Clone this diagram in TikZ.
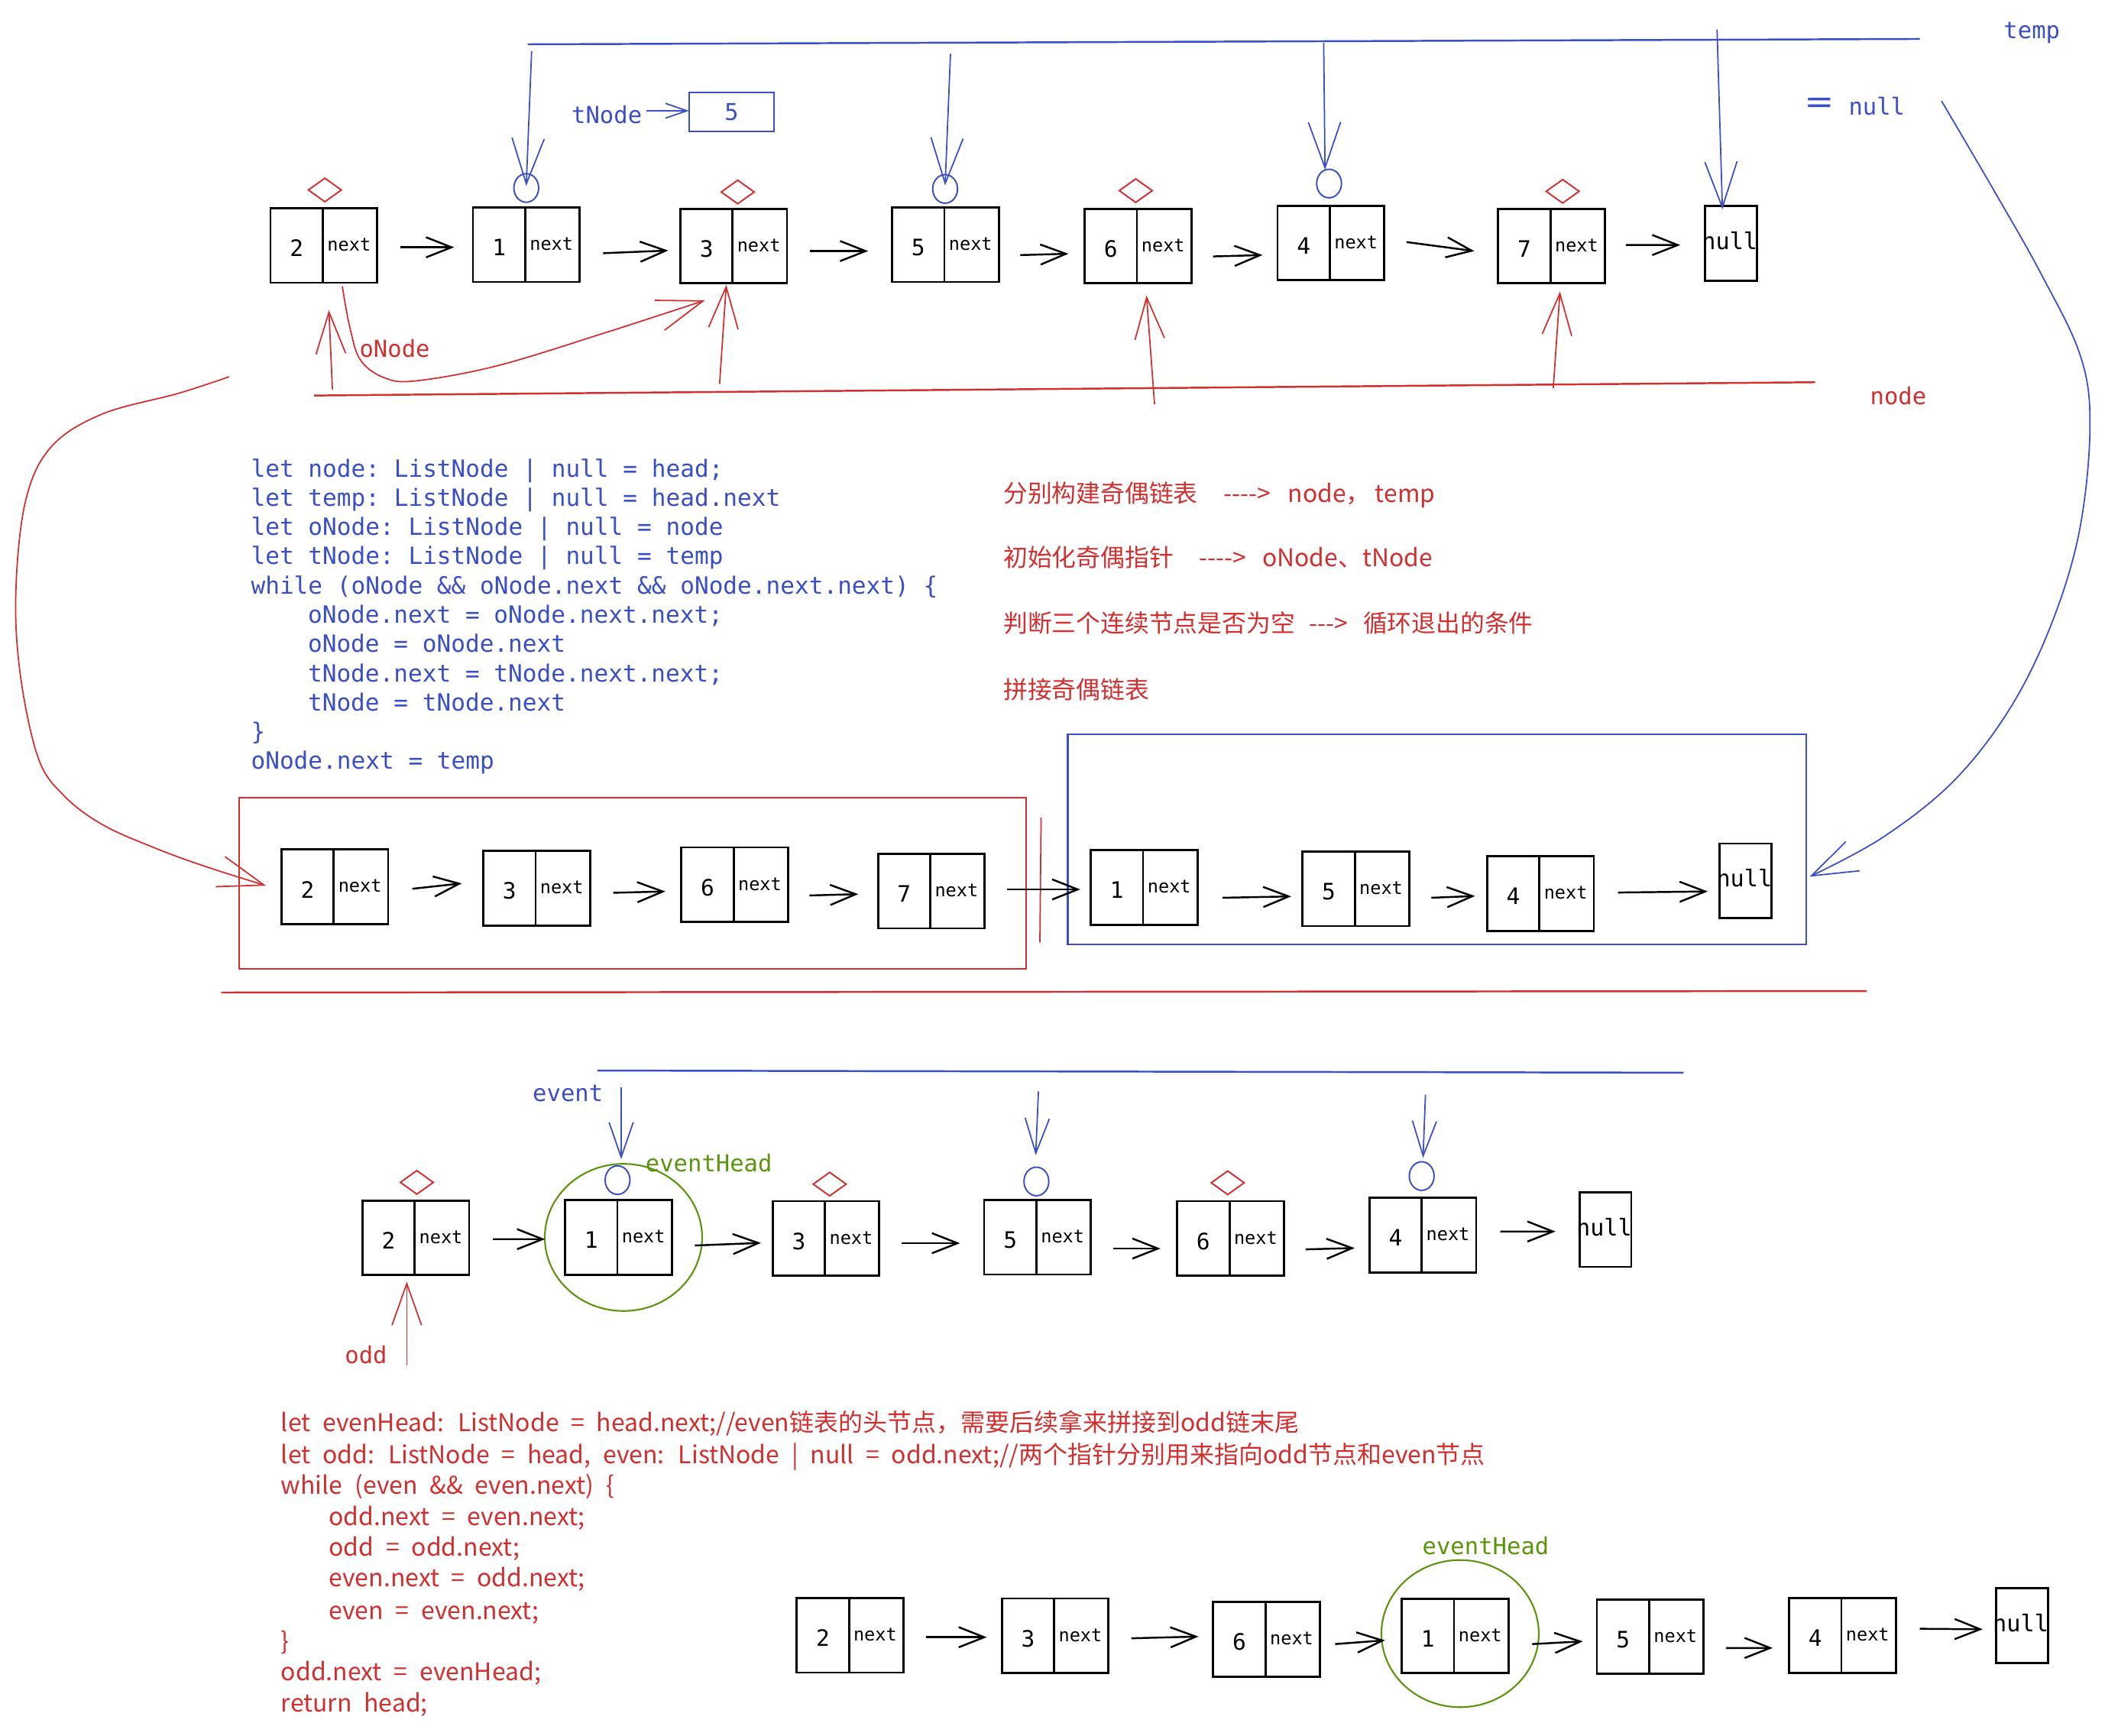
\documentclass[tikz,border=0pt]{standalone}
\usepackage{fontspec}
\setmonofont{DejaVu Sans Mono}
\newfontfamily\cjkfont{Noto Sans CJK SC}
\newfontfamily\cjkwide{Noto Sans CJK SC}[WordSpace=2.2]
\usetikzlibrary{arrows.meta,shapes.geometric,calc}

\newcommand\pxu{0.1757mm}
\definecolor{penblue}{HTML}{3B4FC4}
\definecolor{penred}{HTML}{D03030}
\definecolor{pengreen}{HTML}{5C940D}

\tikzset{
  cellbox/.style={draw=black, line width=0.8pt, minimum width=79.5*\pxu,
    minimum height=55.6*\pxu, inner sep=0pt, outer sep=0pt},
  nullbox/.style={cellbox, minimum width=38.5*\pxu},
  cellline/.style={draw=black, line width=0.8pt},
  valtext/.style={font=\ttfamily\fontsize{8.4}{9}\selectfont, inner sep=0pt},
  nexttext/.style={font=\ttfamily\fontsize{6.7}{8}\selectfont, inner sep=0pt},
  nulltext/.style={font=\ttfamily\fontsize{8.6}{9}\selectfont, inner sep=0pt},
  lbl/.style={font=\ttfamily\fontsize{8.7}{10}\selectfont, inner sep=0pt},
  codeline/.style={font=\ttfamily\fontsize{8.85}{10}\selectfont, inner sep=0pt,
    anchor=base west, text=penblue},
  redcode/.style={font=\cjkwide\fontsize{9.1}{11}\selectfont, inner sep=0pt,
    anchor=base west, text=penred},
  note/.style={font=\cjkfont\fontsize{9.05}{11}\selectfont, inner sep=0pt,
    anchor=base west, text=penred},
  larr/.style={draw=black, line width=0.7pt, -{Straight Barb[length=9.5pt,width=7.5pt]}},
  bptr/.style={draw=penblue, line width=0.5pt, -{Straight Barb[length=17pt,width=12pt]}},
  bptrs/.style={draw=penblue, line width=0.5pt, -{Straight Barb[length=13pt,width=9pt]}},
  rptr/.style={draw=penred, line width=0.5pt, -{Straight Barb[length=15.5pt,width=11pt]}},
  rcurve/.style={draw=penred, line width=0.5pt, -{Straight Barb[length=17pt,width=11.7pt]}},
  bcurve/.style={draw=penblue, line width=0.5pt, -{Straight Barb[length=17pt,width=12pt]}},
  tarr/.style={draw=penblue, line width=0.5pt, -{Straight Barb[length=8pt,width=5.5pt]}},
  blueline/.style={draw=penblue, line width=0.7pt},
  redline/.style={draw=penred, line width=0.7pt},
  oddmark/.style={diamond, draw=penred, line width=0.55pt, minimum width=25*\pxu,
    minimum height=18*\pxu, inner sep=0pt},
  evenmark/.style={ellipse, draw=penblue, line width=0.55pt, minimum width=18.5*\pxu,
    minimum height=21.3*\pxu, inner sep=0pt},
  headring/.style={ellipse, draw=pengreen, line width=0.6pt, minimum width=117.2*\pxu,
    minimum height=109.6*\pxu, inner sep=0pt},
}

% one list cell: value part and "next" part
\newcommand\listnode[4]{%
  \node[cellbox] (#1) at (#2,#3) {};
  \draw[cellline] ($(#1.north west)+(39,0)$) -- ($(#1.south west)+(39,0)$);
  \node[valtext] (#1v) at ($(#1.west)+(19.5,2)$) {#4};
  \node[nexttext] (#1n) at ($(#1.west)+(58.5,-0.5)$) {next};
}
% the terminating null cell
\newcommand\nullnode[3]{%
  \node[nullbox] (#1) at (#2,#3) {};
  \node[nulltext] (#1t) at ($(#1.center)+(-1,-2)$) {null};
}

\begin{document}
\begin{tikzpicture}[x=\pxu, y=-\pxu]
\fill[white] (0,0) rectangle (1568,1293);
\useasboundingbox (0,0) rectangle (1568,1293);

% ================= first list: 2 1 3 5 6 4 7 null =================
\listnode{a2}{241.25}{182.75}{2}
\listnode{a1}{392}{182.2}{1}
\listnode{a3}{546.5}{183.25}{3}
\listnode{a5}{704.2}{182.2}{5}
\listnode{a6}{847.65}{183.25}{6}
\listnode{a4}{991.3}{181}{4}
\listnode{a7}{1155.65}{183.25}{7}
\nullnode{an}{1289.4}{181.25}

\draw[larr] ($(a2.east)+(17.2,1.45)$) -- ($(a1.west)+(-14,2)$);
\draw[larr] ($(a1.east)+(17.5,6.4)$) -- ($(a3.west)+(-9,3.35)$);
\draw[larr] ($(a3.east)+(17.3,3.75)$) -- ($(a5.west)+(-17.8,4.8)$);
\draw[larr] ($(a5.east)+(16,7.8)$) -- ($(a6.west)+(-12,5.75)$);
\draw[larr] ($(a6.east)+(16.2,7.75)$) -- ($(a4.west)+(-11.1,9)$);
\draw[larr] ($(a4.east)+(16.7,-0.7)$) -- ($(a7.west)+(-17.7,3.75)$);
\draw[larr] ($(a7.east)+(15.7,-0.75)$) -- ($(an.west)+(-18.5,1.25)$);

% odd / even markers
\node[oddmark] (m1) at (242,141.5) {};
\node[oddmark] (m2) at (549.5,143) {};
\node[oddmark] (m3) at (846,142) {};
\node[oddmark] (m4) at (1164,142.5) {};
\node[evenmark] (c1) at (392,140) {};
\node[evenmark] (c2) at (704,140.7) {};
\node[evenmark] (c3) at (990,136.7) {};

% temp pointer line
\coordinate (tl) at (393,33);
\coordinate (tr) at (1430,29);
\draw[blueline] (tl) -- (tr);
\node[lbl, text=penblue] (templbl) at (1513.5,24.5) {temp};
\coordinate (tp1) at (396,38);
\coordinate (tp2) at (708,40);
\coordinate (tp3) at (986,32);
\coordinate (tp4) at (1279,22);
\draw[bptr] (tp1) -- ($(c1.center)+(0,-1.5)$);
\draw[bptr] (tp2) -- ($(c2.center)+(0,-2.5)$);
\draw[bptr] (tp3) -- ($(c3.north)+(-3,1)$);
\draw[bptr] (tp4) -- ($(an.north)+(-6.4,2.5)$);

% tNode -> 5
\node[lbl, text=penblue] (tnlbl) at (452,85.5) {tNode};
\node[draw=penblue, line width=0.6pt, minimum width=63.5*\pxu, minimum height=29*\pxu,
  inner sep=0pt, outer sep=0pt, text=penblue, font=\ttfamily\fontsize{8.6}{9}\selectfont]
  (tnbox) at (545,83.5) {5};
\draw[tarr] ($(tnlbl.east)+(2.8,-3)$) -- ($(tnbox.west)+(0,-1)$);

% temp = null, carried down to the even list
\node[font=\cjkfont\fontsize{11}{11}\selectfont\addfontfeature{FakeBold=2.5}, text=penblue,
  inner sep=0pt] (eqsign) at (1355,78.8) {＝};
\node[lbl, text=penblue] (nulllbl) at (1398,79.3) {null};

% node pointer line (odd)
\coordinate (rl) at (234,294.6);
\coordinate (rr) at (1352,284.7);
\draw[redline] (rl) -- (rr);
\node[lbl, text=penred] (nodelbl) at (1414,294.7) {node};
\coordinate (rp1) at (247.6,290);
\coordinate (rp2) at (536,286);
\coordinate (rp3) at (860,301);
\coordinate (rp4) at (1157,289);
\draw[rptr] (rp1) -- ($(a2.south)+(3.75,20.4)$);
\draw[rptr] (rp2) -- ($(a3.south)+(-5.5,1)$);
\draw[rptr] (rp3) -- ($(a6.south)+(6.35,9)$);
\draw[rptr] (rp4) -- ($(a7.south)+(6.35,6)$);

% oNode.next = oNode.next.next
\coordinate (oc0) at ($(a2.south)+(13.75,2.8)$);
\coordinate (oc1) at ($(a3.south west)+(18.4,12.6)$);
\draw[rcurve] plot[smooth, tension=0.6] coordinates {(oc0) (260.6,243.9) (268.6,268.3)
  (286.6,281.5) (310.5,283.6) (370.5,272.4) (450.3,248) (oc1)};
\node[lbl, text=penred] (onlbl) at (294,259.5) {oNode};

% ================= code =================
\node[codeline] (k1) at (186.6,355.2) {let node: ListNode | null = head;};
\node[codeline] (k2) at (186.6,377) {let temp: ListNode | null = head.next};
\node[codeline] (k3) at (186.6,398.8) {let oNode: ListNode | null = node};
\node[codeline] (k4) at (186.6,420.5) {let tNode: ListNode | null = temp};
\node[codeline] (k5) at (186.6,442.3) {while (oNode \&\& oNode.next \&\& oNode.next.next) \{};
\node[codeline] (k6) at (229,464.1) {oNode.next = oNode.next.next;};
\node[codeline] (k7) at (229,485.9) {oNode = oNode.next};
\node[codeline] (k8) at (229,507.7) {tNode.next = tNode.next.next;};
\node[codeline] (k9) at (229,529.4) {tNode = tNode.next};
\node[codeline] (k10) at (186.6,551.2) {\}};
\node[codeline] (k11) at (186.6,573) {oNode.next = temp};

% ================= notes =================
\node[note] (n1a) at (747,374) {分别构建奇偶链表};
\node[note] (n1b) at (911,374) {-{}-{}-{}->};
\node[note] (n1c) at (959,374) {node，};
\node[note] (n1d) at (1024,374) {temp};
\node[note] (n2a) at (747,422) {初始化奇偶指针};
\node[note] (n2b) at (893,422) {-{}-{}-{}->};
\node[note] (n2c) at (940,422) {oNode、tNode};
\node[note] (n3a) at (747,471) {判断三个连续节点是否为空};
\node[note] (n3b) at (975,471) {-{}-{}->};
\node[note] (n3c) at (1015,471) {循环退出的条件};
\node[note] (n4a) at (747,520.4) {拼接奇偶链表};

% ================= split lists =================
\node[draw=penred, line width=0.55pt, minimum width=586.6*\pxu, minimum height=127.7*\pxu,
  inner sep=0pt, outer sep=0pt] (obox) at (471.3,657.85) {};
\node[draw=penblue, line width=0.6pt, minimum width=549.9*\pxu, minimum height=156.5*\pxu,
  inner sep=0pt, outer sep=0pt] (ebox) at (1070.35,625.25) {};
\coordinate (sv0) at (775.5,609);
\coordinate (sv1) at (774.6,702);
\draw[draw=penred, line width=0.5pt] (sv0) -- (sv1);

\listnode{b2}{249.4}{660.5}{2}
\listnode{b3}{399.7}{661.6}{3}
\listnode{b6}{547.25}{659}{6}
\listnode{b7}{693.75}{663.65}{7}
\listnode{c1n}{852.2}{661.15}{1}
\listnode{c5n}{1010}{662}{5}
\listnode{c4n}{1147.5}{665.7}{4}
\nullnode{cn}{1300.3}{656.15}

\draw[larr] ($(b2.east)+(18,1.5)$) -- ($(b3.west)+(-16,-3.6)$);
\draw[larr] ($(b3.east)+(17.4,3.4)$) -- ($(b6.west)+(-11.9,5)$);
\draw[larr] ($(b6.east)+(15.9,8)$) -- ($(b7.west)+(-14.7,2.35)$);
\draw[larr] ($(b7.east)+(16.4,-1.15)$) -- ($(c1n.west)+(-7.8,1.35)$);
\draw[larr] ($(c1n.east)+(18.8,7.55)$) -- ($(c5n.west)+(-8.4,5.7)$);
\draw[larr] ($(c5n.east)+(16.4,6.7)$) -- ($(c4n.west)+(-9,1.7)$);
\draw[larr] ($(c4n.east)+(18,-0.9)$) -- ($(cn.west)+(-9,7.85)$);

% node -> odd list
\coordinate (bc0) at (170.7,280.6);
\coordinate (bc1) at ($(b2.west)+(-11.5,-0.8)$);
\draw[rcurve] plot[smooth, tension=0.6] coordinates {(bc0) (132.8,293) (75.9,308.5)
  (38,333) (19,373.4) (11.8,441.2) (15.2,503) (28.5,564.6) (47.4,592.4) (75.9,614)
  (113.8,631) (151.8,645) (bc1)};

% temp -> even list
\coordinate (cs) at (1446.2,75.2);
\coordinate (ce) at ($(ebox.east)+(2.7,27.75)$);
\draw[bcurve] plot[smooth, tension=0.6] coordinates {(cs) (1485.5,142.3) (1520,203.3)
  (1549.4,264.3) (1556.8,317) (1549,395) (1528,465) (1497,528) (1455,582)
  (1402,624) (ce)};

% divider
\coordinate (dv0) at (164.8,739.3);
\coordinate (dv1) at (1390.5,738.2);
\draw[redline] (dv0) -- (dv1);

% ================= second walk: odd / even =================
\coordinate (el) at (445,797.4);
\coordinate (er) at (1254,799);
\draw[blueline] (el) -- (er);
\node[lbl, text=penblue] (evlbl) at (423,814.7) {event};

\node[headring] (ring1) at (464.4,921.7) {};
\node[lbl, text=pengreen] (eh1) at (528,866) {eventHead};

\listnode{d2}{309.65}{922}{2}
\listnode{d1}{460.6}{921.7}{1}
\listnode{d3}{615.25}{922.5}{3}
\listnode{d5}{772.75}{921.5}{5}
\listnode{d6}{916.55}{922.5}{6}
\listnode{d4}{1059.8}{920}{4}
\nullnode{dn}{1195.9}{915.85}

\draw[larr] ($(d2.east)+(17.7,1)$) -- ($(d1.west)+(-14.8,1.3)$);
\draw[larr] ($(d1.east)+(17.2,6)$) -- ($(d3.west)+(-8.7,3.3)$);
\draw[larr] ($(d3.east)+(16.8,3.5)$) -- ($(d5.west)+(-17.9,4.5)$);
\draw[larr] ($(d5.east)+(16.6,8.5)$) -- ($(d6.west)+(-12.4,7.5)$);
\draw[larr] ($(d6.east)+(16.3,8.1)$) -- ($(d4.west)+(-11,9.6)$);
\draw[larr] ($(d4.east)+(18,-2.7)$) -- ($(dn.west)+(-18,1.45)$);

\node[oddmark] (q1) at (310.5,880.7) {};
\node[oddmark] (q2) at (618,882) {};
\node[oddmark] (q3) at (914.5,881) {};
\node[evenmark] (v1) at (460,879) {};
\node[evenmark] (v2) at (772,880) {};
\node[evenmark] (v3) at (1059,876) {};

\coordinate (ep1) at (462.7,809.7);
\coordinate (ep2) at (773.5,813);
\coordinate (ep3) at (1061.8,815.4);
\draw[bptrs] (ep1) -- ($(v1.north)+(2.7,-4.3)$);
\draw[bptrs] (ep2) -- ($(v2.north)+(-0.5,-8.3)$);
\draw[bptrs] (ep3) -- ($(v3.north)+(1,-2.3)$);

\coordinate (op) at (303,1017);
\draw[rptr] (op) -- ($(d2.south)+(-6.65,4.8)$);
\node[lbl, text=penred] (oddlbl) at (272.6,1009) {odd};

% ================= second code =================
\node[redcode] (w1) at (209,1066) {let evenHead: ListNode = head.next;//even链表的头节点，需要后续拿来拼接到odd链末尾};
\node[redcode] (w2) at (209,1090) {let odd: ListNode = head, even: ListNode | null = odd.next;//两个指针分别用来指向odd节点和even节点};
\node[redcode] (w3) at (209,1113) {while (even \&\& even.next) \{};
\node[redcode] (w4) at (244.6,1136) {odd.next = even.next;};
\node[redcode] (w5) at (244.6,1159) {odd = odd.next;};
\node[redcode] (w6) at (244.6,1182) {even.next = odd.next;};
\node[redcode] (w7) at (244.6,1206) {even = even.next;};
\node[redcode] (w8) at (209,1229) {\}};
\node[redcode] (w9) at (209,1252) {odd.next = evenHead;};
\node[redcode] (w10) at (209,1275) {return head;};

% ================= result list =================
\node[headring] (ring2) at (1087.6,1216.8) {};
\node[lbl, text=pengreen] (eh2) at (1106.7,1151.4) {eventHead};

\listnode{e2}{633.15}{1218}{2}
\listnode{e3}{786}{1218.45}{3}
\listnode{e6}{943.4}{1221.1}{6}
\listnode{e1}{1083.85}{1218.55}{1}
\listnode{e5}{1229.25}{1219.1}{5}
\listnode{e4}{1372.4}{1218.3}{4}
\nullnode{en}{1506.15}{1210.7}

\draw[larr] ($(e2.east)+(17,1.5)$) -- ($(e3.west)+(-11.2,1.05)$);
\draw[larr] ($(e3.east)+(17,1.85)$) -- ($(e6.west)+(-10.9,-2.1)$);
\draw[larr] ($(e6.east)+(11.4,3.5)$) -- ($(e1.west)+(-12.4,3.25)$);
\draw[larr] ($(e1.east)+(17.7,6.05)$) -- ($(e5.west)+(-10.5,3.5)$);
\draw[larr] ($(e5.east)+(16.7,8.4)$) -- ($(e4.west)+(-12.2,9.2)$);
\draw[larr] ($(e4.east)+(17.9,-5.1)$) -- ($(en.west)+(-10,2.9)$);
\end{tikzpicture}
\end{document}
